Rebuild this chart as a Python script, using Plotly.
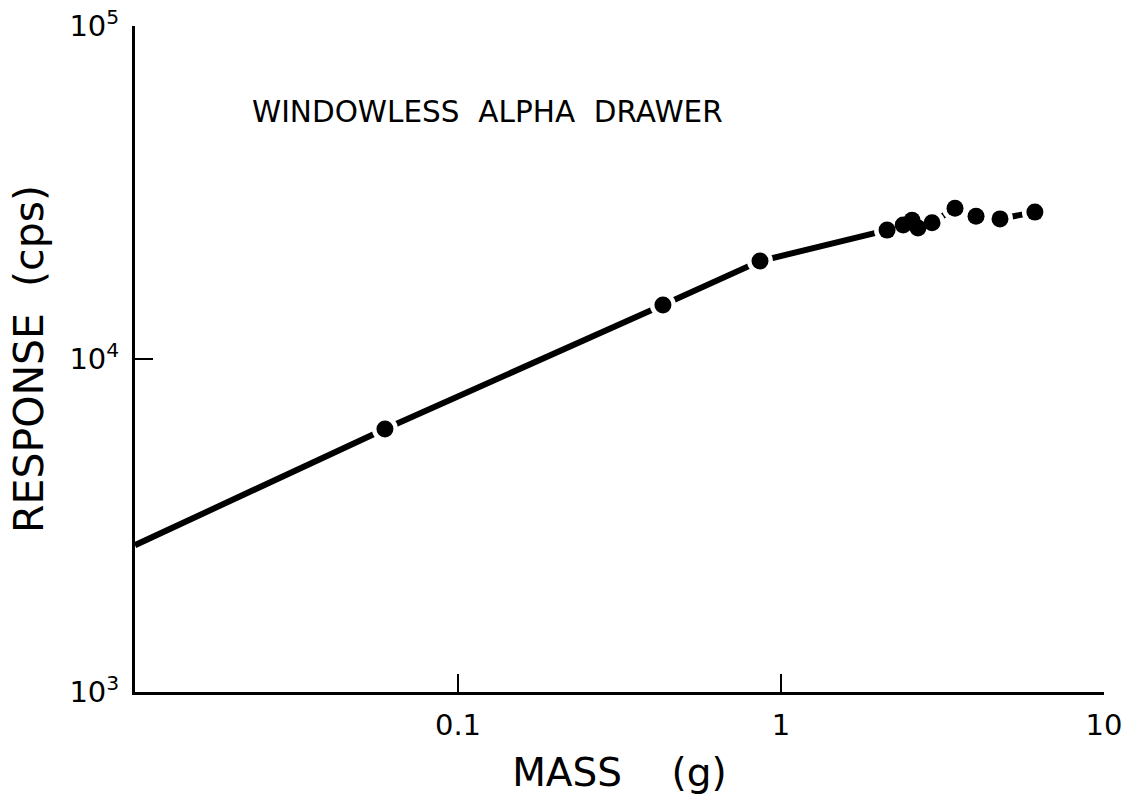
import plotly.graph_objects as go

# Data (log-log)
line_start_mass = [0.01]
line_start_response = [2760]

mass = [0.0594, 0.431, 0.861, 2.13, 2.39, 2.545, 2.655, 2.935, 3.457, 4.016, 4.765, 6.11]
response = [6165, 14520, 19680, 24380, 25240, 26120, 24720, 25640, 28380, 26850, 26350, 27610]

x_tickvals = [0.1, 1, 10]
x_ticktext = ["0.1", "1", "10"]
y_tickvals = [1e3, 1e4, 1e5]
y_ticktext = ["10<sup>3</sup>", "10<sup>4</sup>", "10<sup>5</sup>"]

FONT = "DejaVu Sans"

fig = go.Figure()

# connecting thick line
fig.add_trace(go.Scatter(
    x=line_start_mass + mass, y=line_start_response + response,
    mode="lines", line=dict(color="black", width=6),
    hoverinfo="skip", showlegend=False))
# white halo to create gaps around markers
fig.add_trace(go.Scatter(
    x=mass, y=response, mode="markers",
    marker=dict(color="white", size=26, line=dict(width=0)),
    hoverinfo="skip", showlegend=False))
# black dots
fig.add_trace(go.Scatter(
    x=mass, y=response, mode="markers",
    marker=dict(color="black", size=17, line=dict(width=0)),
    showlegend=False))

fig.update_layout(
    template="none",
    width=1133, height=803,
    margin=dict(l=135, r=29, t=26, b=111, autoexpand=False),
    paper_bgcolor="white", plot_bgcolor="white",
    font=dict(family=FONT, color="black"),
    annotations=[dict(
        text="WINDOWLESS  ALPHA  DRAWER",
        xref="paper", yref="paper", x=(250 - 135) / 969, y=0.871,
        xanchor="left", yanchor="middle", showarrow=False,
        font=dict(family=FONT, size=29.5, color="black"))],
)

fig.update_xaxes(
    type="log", range=[-2, 1], automargin=False,
    tickvals=x_tickvals, ticktext=x_ticktext,
    ticks="inside", ticklen=18, tickwidth=2, tickcolor="black",
    showline=True, linecolor="black", linewidth=3, mirror=False,
    showgrid=False, zeroline=False,
    tickfont=dict(family=FONT, size=29, color="black"),
    ticklabelstandoff=5,
    title=dict(text="MASS    (g)", font=dict(family=FONT, size=39, color="black"), standoff=18),
)
fig.update_yaxes(
    type="log", range=[3, 5], automargin=False,
    tickvals=y_tickvals, ticktext=y_ticktext,
    ticks="inside", ticklen=18, tickwidth=2, tickcolor="black",
    showline=True, linecolor="black", linewidth=3, mirror=False,
    showgrid=False, zeroline=False,
    tickfont=dict(family=FONT, size=29, color="black"),
    ticklabelstandoff=7,
    title=dict(text="RESPONSE  (cps)", font=dict(family=FONT, size=41, color="black"), standoff=14),
)

fig.write_html("out.html", post_script="document.body.style.margin='0';",
               config={"displayModeBar": False})
